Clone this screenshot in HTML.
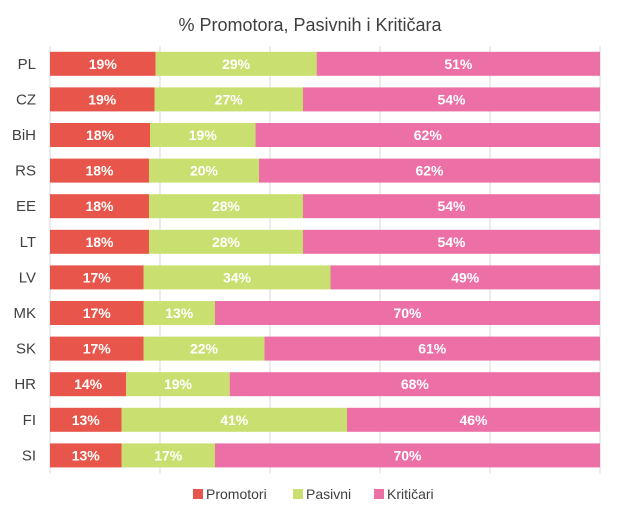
<!DOCTYPE html>
<html><head><meta charset="utf-8"><style>
html,body{margin:0;padding:0;background:#fff;}
svg{display:block;font-family:"Liberation Sans",sans-serif;}
</style></head><body>
<svg id="chart" width="618" height="520">
<text x="310" y="31" text-anchor="middle" font-size="18" fill="#404040">% Promotora, Pasivnih i Kritičara</text>
<g id="grid"></g><g id="bars"></g>
<g font-size="14" fill="#404040">
<rect x="193" y="489" width="10" height="10" fill="#e8554a"/>
<text x="206" y="499">Promotori</text>
<rect x="293" y="489" width="10" height="10" fill="#c9e070"/>
<text x="306" y="499">Pasivni</text>
<rect x="374" y="489" width="10" height="10" fill="#ec6fa5"/>
<text x="387" y="499">Kritičari</text>
</g>
</svg>
<script>
const categories=["PL","CZ","BiH","RS","EE","LT","LV","MK","SK","HR","FI","SI"];
const promotori=[19,19,18,18,18,18,17,17,17,14,13,13];
const pasivni=[29,27,19,20,28,28,34,13,22,19,41,17];
const kriticari=[51,54,62,62,54,54,49,70,61,68,46,70];
const ns="http://www.w3.org/2000/svg";
const x0=50,x1=600,top0=46,pitch=35.6,bh=24;
const xs=v=>x0+v/100*(x1-x0);
const grid=document.getElementById('grid'),bars=document.getElementById('bars');
for(let i=0;i<=5;i++){
 const l=document.createElementNS(ns,'line');
 
 
 const x=xs(i*20);
 l.setAttribute('x1',x);l.setAttribute('x2',x);l.setAttribute('y1',top0);l.setAttribute('y2',top0+pitch*12);
 l.setAttribute('stroke','#d9d9d9');grid.appendChild(l);
}
const series=[[promotori,'#e8554a','promotori'],[pasivni,'#c9e070','pasivni'],[kriticari,'#ec6fa5','kriticari']];
categories.forEach((c,i)=>{
 const yc=top0+pitch*(i+0.5);
 const t=document.createElementNS(ns,'text');
 
 
 t.setAttribute('x',36);t.setAttribute('y',yc+5);t.setAttribute('text-anchor','end');
 t.setAttribute('font-size','15');t.setAttribute('fill','#404040');t.textContent=c;bars.appendChild(t);
 const tot=promotori[i]+pasivni[i]+kriticari[i];
 let acc=0;
 series.forEach(([arr,col,nm])=>{
  const v=arr[i]/tot*100;
  const r=document.createElementNS(ns,'rect');
  
  
  r.setAttribute('x',xs(acc));r.setAttribute('width',xs(acc+v)-xs(acc));
  r.setAttribute('y',yc-bh/2);r.setAttribute('height',bh);r.setAttribute('fill',col);
  bars.appendChild(r);
  const lb=document.createElementNS(ns,'text');
  
  
  lb.setAttribute('x',(xs(acc)+xs(acc+v))/2);lb.setAttribute('y',yc+5);
  lb.setAttribute('text-anchor','middle');lb.setAttribute('font-size','14');lb.setAttribute('font-weight','bold');
  lb.setAttribute('fill','#fff');lb.textContent=arr[i]+'%';bars.appendChild(lb);
  acc+=v;
 });
});
</script>
</body></html>
